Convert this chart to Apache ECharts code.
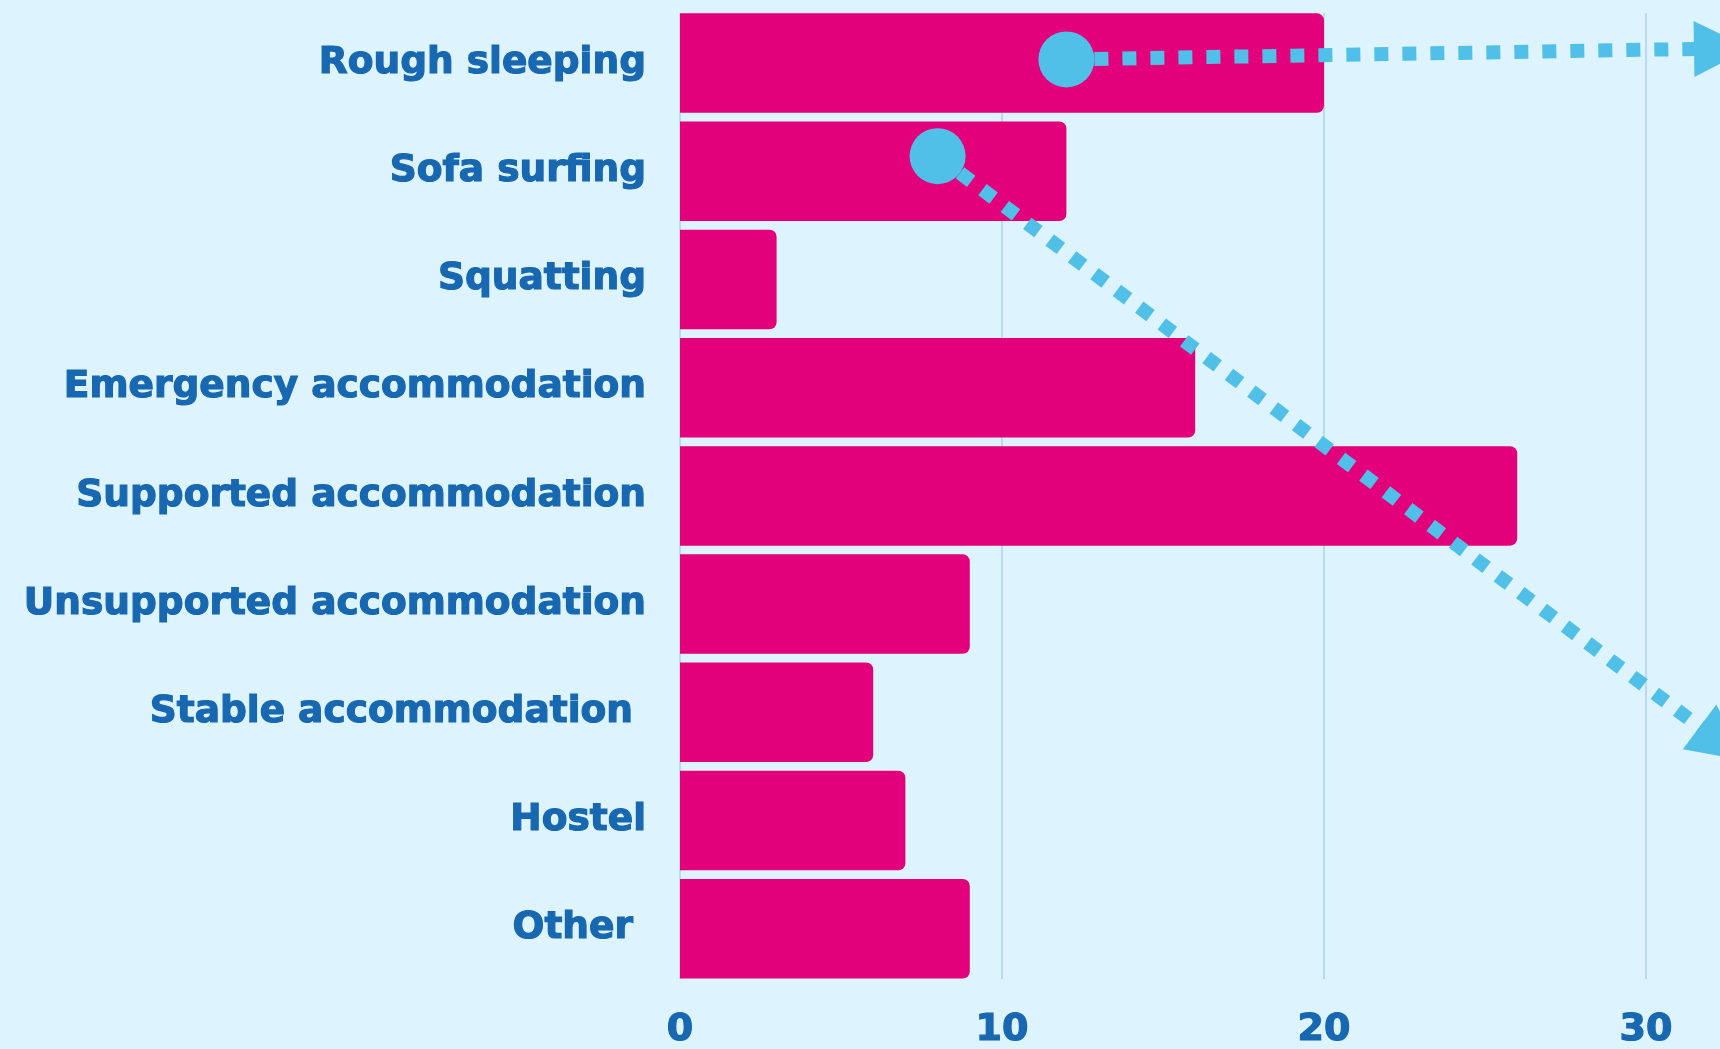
<!DOCTYPE html>
<html>
<head>
<meta charset="utf-8">
<title>Accommodation</title>
<script src="https://cdn.jsdelivr.net/npm/echarts@6/dist/echarts.min.js"></script>
<style>
  html, body { margin: 0; padding: 0; background: #ddf3fd; }
  #chart { width: 1720px; height: 1049px; }
</style>
</head>
<body>
<div id="chart"></div>
<script>
// Categories, top to bottom
const categories = [
  'Rough sleeping',
  'Sofa surfing',
  'Squatting',
  'Emergency accommodation',
  'Supported accommodation',
  'Unsupported accommodation',
  'Stable accommodation ',
  'Hostel',
  'Other '
];
const values = [20, 12, 3, 16, 26, 9, 6, 7, 9];
const xTicks = { min: 0, max: 40, step: 10 };

// Pointer annotations: start dot and arrow end, as [value, row] where row 0 is the top edge
const pointerStarts = [[12, 0.466], [8, 1.36]];
const pointerEnds = [[32.36, 0.365], [32.36, 6.79]];

const labelColor = '#1767b1';
const barColor = '#e3007b';
const pointerColor = '#50c0e8';
const fontFamily = '"DejaVu Sans", sans-serif';

const chart = echarts.init(document.getElementById('chart'), null, { renderer: 'canvas' });

chart.setOption({
  backgroundColor: '#ddf3fd',
  animation: false,
  grid: [
    // bars
    { left: 680, right: -248, top: 9, height: 973.8, containLabel: false, outerBoundsMode: 'none' },
    // value gridlines and tick labels
    { left: 680, right: -248, top: 13.3, height: 965.7, containLabel: false, outerBoundsMode: 'none' }
  ],
  xAxis: [
    {
      gridIndex: 0, type: 'value', min: xTicks.min, max: xTicks.max, interval: xTicks.step,
      axisLine: { show: false }, axisTick: { show: false }, axisLabel: { show: false },
      splitLine: { show: false }
    },
    {
      gridIndex: 1, type: 'value', min: xTicks.min, max: xTicks.max, interval: xTicks.step,
      axisLine: { show: false }, axisTick: { show: false },
      axisLabel: {
        color: labelColor, fontSize: 38, fontWeight: 'bold', fontFamily: fontFamily, margin: 32,
        textBorderColor: labelColor, textBorderWidth: 1.2
      },
      splitLine: { show: true, lineStyle: { color: '#add2ea', width: 1.5 } }
    }
  ],
  yAxis: [
    {
      gridIndex: 0, type: 'category', data: categories, inverse: true,
      axisLine: { show: false }, axisTick: { show: false },
      axisLabel: {
        color: labelColor, fontSize: 37.5, fontWeight: 'bold', fontFamily: fontFamily, margin: 34,
        textBorderColor: labelColor, textBorderWidth: 1.2,
        padding: [5, 0, 0, 0]
      },
      splitLine: { show: false }
    },
    {
      gridIndex: 0, type: 'value', min: 0, max: categories.length, inverse: true, show: false
    },
    {
      gridIndex: 1, type: 'category', data: categories, inverse: true, show: false
    }
  ],
  series: [
    {
      type: 'bar',
      xAxisIndex: 0, yAxisIndex: 0,
      data: values,
      barCategoryGap: '8%',
      itemStyle: { color: barColor, borderRadius: [0, 7, 7, 0] },
      z: 2
    },
    {
      type: 'lines',
      coordinateSystem: 'cartesian2d',
      xAxisIndex: 0, yAxisIndex: 1,
      polyline: false,
      clip: false,
      symbol: ['none', 'triangle'],
      symbolSize: [0, 56],
      lineStyle: { color: pointerColor, width: 14, type: [14, 14], cap: 'butt', opacity: 1, curveness: 0 },
      data: pointerStarts.map((s, i) => ({ coords: [s, pointerEnds[i]] })),
      z: 3
    },
    {
      type: 'scatter',
      xAxisIndex: 0, yAxisIndex: 1,
      symbol: 'circle',
      symbolSize: 56,
      itemStyle: { color: pointerColor, opacity: 1 },
      data: pointerStarts,
      clip: false,
      z: 4
    }
  ]
});
</script>
</body>
</html>
